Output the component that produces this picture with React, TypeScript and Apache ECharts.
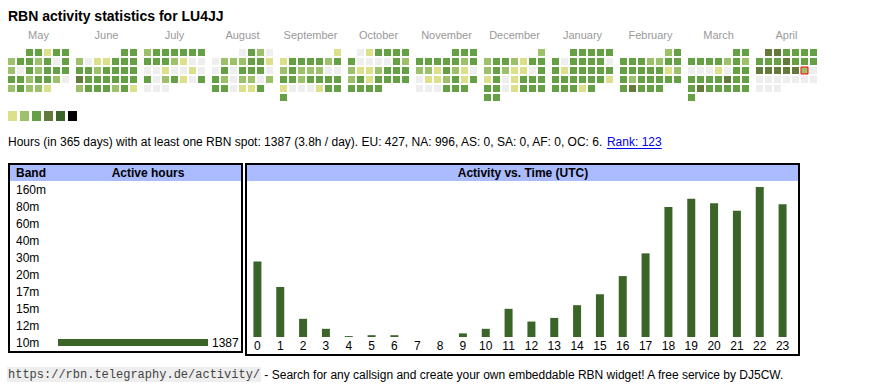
import React, { useEffect, useRef } from 'react';
import * as echarts from 'echarts';

// ---------- data ----------
const MONTH_NAMES = ['May', 'June', 'July', 'August', 'September', 'October', 'November', 'December', 'January', 'February', 'March', 'April'];
const MONTH_KEYS = ['2024-05', '2024-06', '2024-07', '2024-08', '2024-09', '2024-10', '2024-11', '2024-12', '2025-01', '2025-02', '2025-03', '2025-04'];
const TODAY = '2025-04-19';

// activity level per day (0 = none ... 5 = highest)
const may2024 = [3, 3, 1, 3, 3, 2, 3, 3, 2, 3, 0, 3, 2, 0, 3, 2, 3, 3, 3, 3, 3, 2, 3, 3, 2, 0, 2, 3, 2, 2, 1];
const jun2024 = [3, 3, 2, 0, 1, 1, 3, 3, 3, 3, 3, 2, 3, 3, 3, 3, 4, 3, 3, 3, 3, 3, 3, 2, 3, 3, 3, 2, 3, 1];
const jul2024 = [2, 3, 3, 3, 3, 3, 3, 3, 3, 3, 2, 1, 0, 0, 0, 0, 1, 0, 0, 1, 0, 3, 0, 2, 3, 1, 0, 3, 0, 0, 0];
const aug2024 = [0, 3, 2, 0, 0, 2, 2, 2, 3, 3, 1, 0, 3, 0, 3, 3, 3, 0, 3, 2, 0, 2, 2, 0, 2, 3, 3, 0, 1, 1, 3];
const sep2024 = [1, 1, 3, 3, 3, 3, 2, 3, 2, 3, 2, 2, 2, 0, 0, 3, 3, 2, 3, 3, 3, 3, 1, 0, 0, 0, 1, 3, 3, 3];
const oct2024 = [0, 1, 3, 3, 3, 3, 3, 0, 0, 0, 0, 3, 2, 2, 1, 1, 2, 3, 3, 3, 2, 3, 1, 3, 3, 3, 3, 3, 3, 3, 3];
const nov2024 = [3, 3, 3, 3, 3, 3, 3, 3, 2, 3, 2, 2, 1, 3, 2, 1, 0, 0, 1, 1, 2, 3, 1, 3, 0, 0, 0, 3, 3, 3];
const dec2024 = [2, 2, 3, 3, 2, 1, 3, 3, 2, 3, 2, 1, 1, 0, 3, 1, 3, 0, 1, 3, 3, 3, 3, 3, 0, 1, 3, 3, 3, 3, 3];
const jan2025 = [3, 3, 3, 3, 3, 3, 0, 3, 3, 3, 3, 0, 3, 1, 3, 3, 3, 3, 3, 3, 3, 3, 3, 3, 3, 1, 3, 3, 3, 1, 3];
const feb2025 = [2, 3, 3, 3, 3, 2, 2, 3, 3, 3, 3, 3, 3, 3, 1, 2, 3, 2, 3, 3, 3, 3, 3, 3, 4, 3, 3, 3];
const mar2025 = [3, 3, 3, 3, 3, 3, 2, 3, 2, 0, 0, 0, 1, 0, 3, 3, 3, 3, 3, 3, 4, 3, 3, 3, 4, 3, 3, 3, 3, 3, 3];
const apr2025 = [4, 4, 3, 3, 3, 3, 3, 3, 3, 4, 3, 3, 3, 4, 4, 4, 4, 4, 2, 0, 0, 0, 0, 0, 0, 0, 0, 0, 0, 0];
const MONTH_DATA = [may2024, jun2024, jul2024, aug2024, sep2024, oct2024, nov2024, dec2024, jan2025, feb2025, mar2025, apr2025];

const LEVEL_COLORS = ['#eeeeee', '#dde08a', '#9dc06a', '#65a045', '#637a3a', '#3b6428', '#000000'];
const LEGEND_LEVELS = [1, 2, 3, 4, 5, 6];

const BANDS = ['160m', '80m', '60m', '40m', '30m', '20m', '17m', '15m', '12m', '10m'];
const BAND_HOURS = [0, 0, 0, 0, 0, 0, 0, 0, 0, 1387];

const HOURS = ['0', '1', '2', '3', '4', '5', '6', '7', '8', '9', '10', '11', '12', '13', '14', '15', '16', '17', '18', '19', '20', '21', '22', '23'];
const HOUR_ACTIVITY = [83, 55, 20, 9, 1, 2, 2, 0, 0, 4, 9, 31, 17, 21, 35, 47, 67, 92, 143, 152, 147, 139, 165, 146];

const STATS_TEXT = 'Hours (in 365 days) with at least one RBN spot: 1387 (3.8h / day). EU: 427, NA: 996, AS: 0, SA: 0, AF: 0, OC: 6. ';
const RANK_TEXT = 'Rank: 123';
const FOOTER_URL = 'https://rbn.telegraphy.de/activity/';
const FOOTER_TEXT = ' - Search for any callsign and create your own embeddable RBN widget! A free service by DJ5CW.';
const TITLE = 'RBN activity statistics for LU4JJ';

// ---------- styles ----------
const FONT = 'Arial, "Liberation Sans", Helvetica, sans-serif';
const MONO = '"Courier New", "Liberation Mono", monospace';
const BAR_COLOR = '#3b6428';
const HEAD_BG = '#aabbff';

function measure(text: string, font: string): number {
  const ctx = document.createElement('canvas').getContext('2d');
  if (!ctx) return text.length * 6;
  ctx.font = font;
  return ctx.measureText(text).width;
}

function pad(n: number) {
  return n < 10 ? '0' + n : '' + n;
}

export default function App() {
  const ref = useRef<HTMLDivElement>(null);

  useEffect(() => {
    if (!ref.current) return;
    const chart = echarts.init(ref.current, undefined, { renderer: 'svg' });

    const statsW = measure(STATS_TEXT, `12px ${FONT}`);
    const rankW = measure(RANK_TEXT, `12px ${FONT}`);
    const urlW = measure(FOOTER_URL, `12px ${MONO}`);

    const calendars = MONTH_KEYS.map((k, i) => ({
      orient: 'vertical',
      range: k,
      left: 7 + i * 68,
      top: 48,
      cellSize: [9, 9],
      splitLine: { show: false },
      itemStyle: { color: 'rgba(0,0,0,0)', borderWidth: 0, borderColor: 'rgba(0,0,0,0)' },
      dayLabel: { show: false, firstDay: 1 },
      monthLabel: { show: false },
      yearLabel: { show: false },
      silent: true,
    }));

    const calSeries = MONTH_DATA.map((arr, i) => ({
      type: 'scatter',
      coordinateSystem: 'calendar',
      calendarIndex: i,
      symbol: 'rect',
      symbolSize: 7,
      silent: true,
      data: arr.map((lv, d) => {
        const date = `${MONTH_KEYS[i]}-${pad(d + 1)}`;
        const itemStyle: any = { color: LEVEL_COLORS[lv], opacity: 1 };
        if (date === TODAY) {
          itemStyle.borderColor = '#ff0000';
          itemStyle.borderWidth = 1;
        }
        return { value: [date, lv], itemStyle };
      }),
    }));

    const graphic: any[] = [];
    graphic.push({
      type: 'text', x: 8, y: 16,
      style: { text: TITLE, font: `bold 14px ${FONT}`, fill: '#000', align: 'left', verticalAlign: 'middle' },
    });
    MONTH_NAMES.forEach((m, i) => {
      graphic.push({
        type: 'text', x: 8 + 30.5 + i * 68, y: 35,
        style: { text: m, font: `11px ${FONT}`, fill: '#999999', align: 'center', verticalAlign: 'middle' },
      });
    });
    LEGEND_LEVELS.forEach((lv, i) => {
      graphic.push({
        type: 'rect', shape: { x: 8 + i * 12, y: 111, width: 9, height: 10 },
        style: { fill: LEVEL_COLORS[lv] },
      });
    });
    // stats line
    graphic.push({
      type: 'text', x: 8, y: 142,
      style: { text: STATS_TEXT, font: `12px ${FONT}`, fill: '#000', align: 'left', verticalAlign: 'middle' },
    });
    graphic.push({
      type: 'text', x: 8 + statsW, y: 142,
      style: { text: RANK_TEXT, font: `12px ${FONT}`, fill: '#0000ee', align: 'left', verticalAlign: 'middle' },
    });
    graphic.push({
      type: 'line', shape: { x1: 8 + statsW, y1: 148.5, x2: 8 + statsW + rankW, y2: 148.5 },
      style: { stroke: '#0000ee', lineWidth: 1 },
    });
    // left panel
    graphic.push({
      type: 'rect', z: 0, shape: { x: 10, y: 165, width: 231, height: 16 },
      style: { fill: HEAD_BG },
    });
    graphic.push({
      type: 'rect', z: 100, shape: { x: 9, y: 164, width: 233, height: 188 },
      style: { fill: 'none', stroke: '#000', lineWidth: 2 },
    });
    graphic.push({
      type: 'text', x: 16, y: 173,
      style: { text: 'Band', font: `bold 12px ${FONT}`, fill: '#000', align: 'left', verticalAlign: 'middle' },
    });
    graphic.push({
      type: 'text', x: 148, y: 173,
      style: { text: 'Active hours', font: `bold 12px ${FONT}`, fill: '#000', align: 'center', verticalAlign: 'middle' },
    });
    // right panel
    graphic.push({
      type: 'rect', z: 0, shape: { x: 247, y: 165, width: 551, height: 16 },
      style: { fill: HEAD_BG },
    });
    graphic.push({
      type: 'rect', z: 100, shape: { x: 246, y: 164, width: 553, height: 191 },
      style: { fill: 'none', stroke: '#000', lineWidth: 2 },
    });
    graphic.push({
      type: 'text', x: 523, y: 173,
      style: { text: 'Activity vs. Time (UTC)', font: `bold 12px ${FONT}`, fill: '#000', align: 'center', verticalAlign: 'middle' },
    });
    // footer
    graphic.push({
      type: 'rect', shape: { x: 7, y: 367, width: urlW + 2, height: 15 },
      style: { fill: '#eeeeee' },
    });
    graphic.push({
      type: 'text', x: 8, y: 374.5,
      style: { text: FOOTER_URL, font: `12px ${MONO}`, fill: '#444444', align: 'left', verticalAlign: 'middle' },
    });
    graphic.push({
      type: 'text', x: 8 + urlW + 1, y: 374.5,
      style: { text: FOOTER_TEXT, font: `12px ${FONT}`, fill: '#000', align: 'left', verticalAlign: 'middle' },
    });

    const option: any = {
      animation: false,
      calendar: calendars,
      grid: [
        { left: 58, top: 181, width: 150, height: 170, outerBoundsMode: 'none', containLabel: false },
        { left: 246, top: 187, width: 548, height: 150, outerBoundsMode: 'none', containLabel: false },
      ],
      xAxis: [
        { type: 'value', gridIndex: 0, min: 0, max: 'dataMax', show: false },
        {
          type: 'category', gridIndex: 1, data: HOURS,
          axisLine: { show: false }, axisTick: { show: false }, splitLine: { show: false },
          axisLabel: { interval: 0, margin: 3, fontSize: 12, color: '#000', fontFamily: FONT },
        },
      ],
      yAxis: [
        {
          type: 'category', gridIndex: 0, data: BANDS, inverse: true,
          axisLine: { show: false }, axisTick: { show: false }, splitLine: { show: false },
          axisLabel: { align: 'left', margin: 42, fontSize: 12, color: '#000', fontFamily: FONT, interval: 0 },
        },
        { type: 'value', gridIndex: 1, min: 0, max: 'dataMax', show: false },
      ],
      series: [
        ...calSeries,
        {
          type: 'bar', xAxisIndex: 0, yAxisIndex: 0, data: BAND_HOURS, barWidth: 7, silent: true,
          itemStyle: { color: BAR_COLOR },
          label: {
            show: true, position: 'right', distance: 4, fontSize: 12, color: '#000', fontFamily: FONT,
            formatter: (p: any) => (p.value > 0 ? String(p.value) : ''),
          },
        },
        {
          type: 'bar', xAxisIndex: 1, yAxisIndex: 1, data: HOUR_ACTIVITY, barWidth: 8, silent: true,
          itemStyle: { color: BAR_COLOR },
        },
      ],
      graphic,
    };

    chart.setOption(option);
    return () => chart.dispose();
  }, []);

  return <div ref={ref} style={{ position: 'absolute', left: 0, top: 0, width: 870, height: 390 }} />;
}
